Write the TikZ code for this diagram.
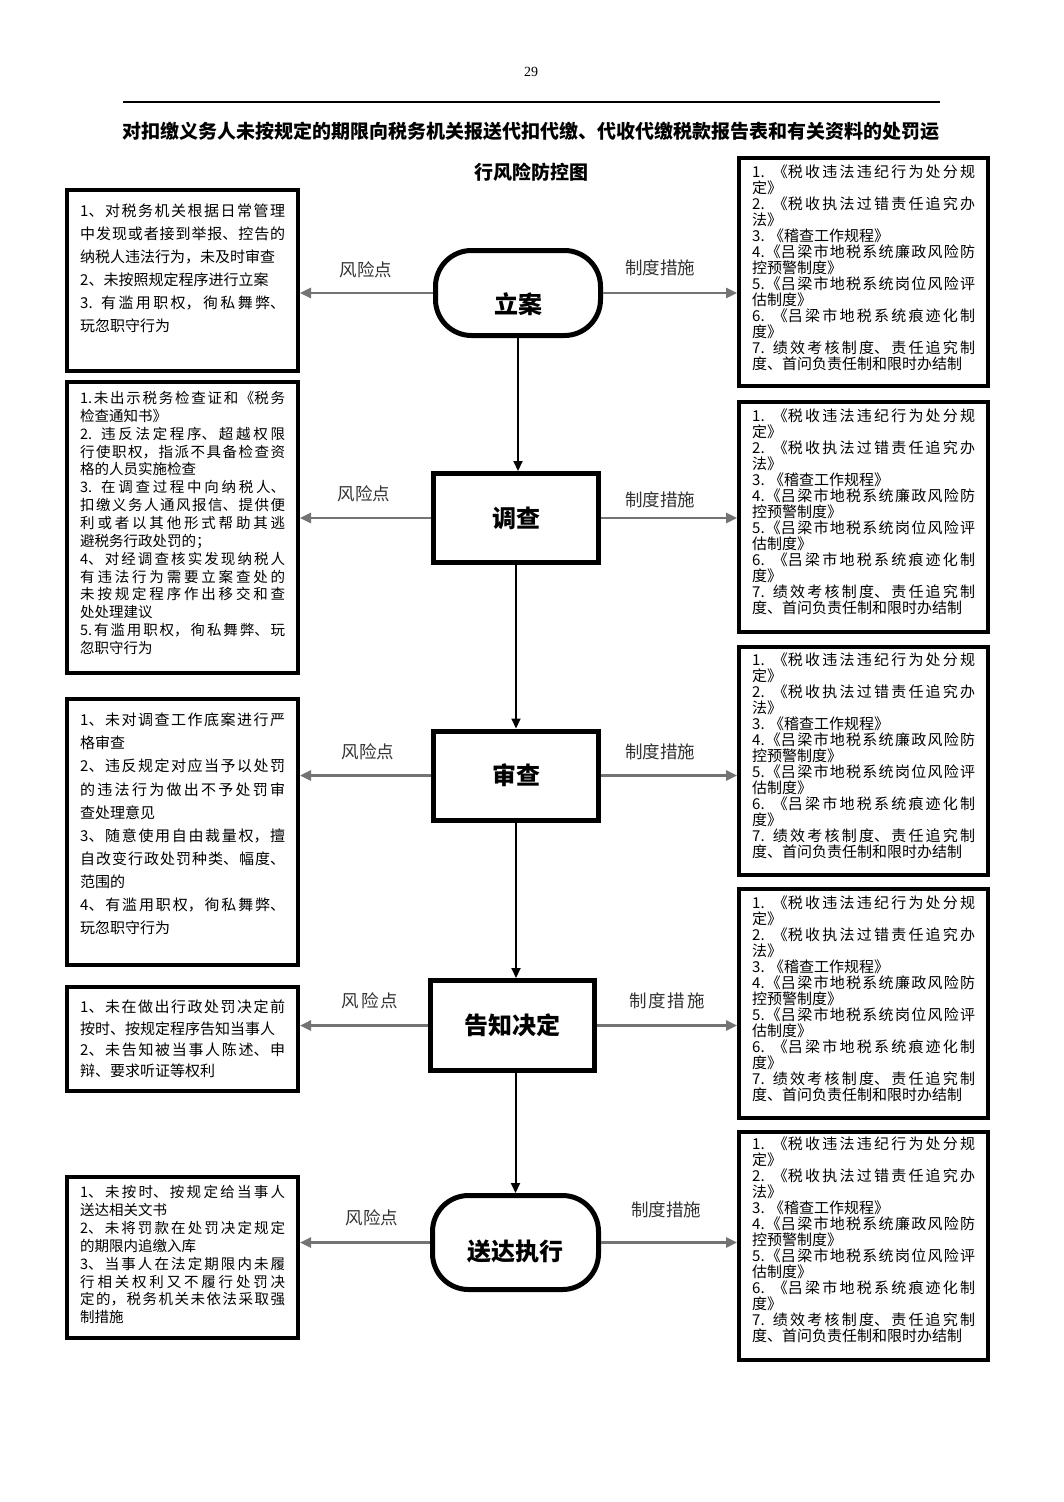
\documentclass[tikz,border=0pt]{standalone}
\usepackage{fontspec}
\setmainfont{Noto Sans CJK SC}
\newfontfamily\numfont{Liberation Serif}
\usetikzlibrary{arrows.meta,positioning,calc}
\XeTeXlinebreaklocale "zh"
\XeTeXlinebreakskip=0pt plus 3pt

% the same seven rules stand in every right-hand box
\newcommand{\rulelist}{%
1. 《税收违法违纪行为处分规\linebreak 定》\par
2. 《税收执法过错责任追究办\linebreak 法》\par
3. 《稽查工作规程》\par
4.《吕梁市地税系统廉政风险防\linebreak 控预警制度》\par
5.《吕梁市地税系统岗位风险评\linebreak 估制度》\par
6. 《吕梁市地税系统痕迹化制\linebreak 度》\par
7. 绩效考核制度、责任追究制\linebreak 度、首问负责任制和限时办结制}

\begin{document}
\tolerance=10000
\begin{tikzpicture}[x=1pt,y=-1pt,
    riskbox/.style={draw,line width=4pt,minimum width=231pt,inner sep=0pt},
    rulebox/.style={draw,line width=4pt,minimum width=249pt,inner sep=0pt},
    risktext/.style={anchor=base west,inner sep=0pt,text width=205pt,align=justify},
    ruletext/.style={anchor=base west,inner sep=0pt,text width=223pt,align=justify,
        font=\fontsize{15}{16}\selectfont},
    stepbox/.style={draw,line width=5pt,minimum width=165pt,minimum height=89pt,
        inner sep=0pt,font=\fontsize{24}{28}\selectfont\bfseries},
    roundstep/.style={stepbox,rounded corners=36pt},
    flowarrow/.style={line width=2pt,-{Triangle[length=10pt,width=9pt]}},
    sidearrow/.style={line width=2.5pt,black!55,-{Triangle[length=11pt,width=10pt]}},
    sidelabel/.style={inner sep=0pt,text=black!80,font=\fontsize{17.5}{20}\selectfont}]

    \fill[white] (0,0) rectangle (1063,1502);
    \useasboundingbox (0,0) rectangle (1063,1502);

    % header
    \node[font=\numfont\fontsize{14}{16}\selectfont] (page) at (531,72) {29};
    \draw[line width=2pt] (123,102) -- (940,102);
    \node[font=\fontsize{19}{22}\selectfont\bfseries] (title1) at (531,131)
        {对扣缴义务人未按规定的期限向税务机关报送代扣代缴、代收代缴税款报告表和有关资料的处罚运};
    \node[font=\fontsize{19}{22}\selectfont\bfseries] (title2) at (531,172) {行风险防控图};

    % steps
    \node[roundstep,minimum height=85pt] (lian) at (518,293) {\raisebox{-20pt}[0pt][0pt]{立案}};
    \node[stepbox] (diaocha) at (516,518) {调查};
    \node[stepbox] (shencha) at (516,775.5) {审查};
    \node[stepbox,minimum width=164pt,minimum height=90pt] (gaozhi) at (512.5,1025.5) {告知决定};
    \node[roundstep,minimum width=166pt,minimum height=94pt] (songda) at (515.5,1242.5) {\raisebox{-18pt}[0pt][0pt]{送达执行}};

    \draw[flowarrow] (lian.south) -- (lian.south |- diaocha.north);
    \draw[flowarrow] (diaocha.south) -- (diaocha.south |- shencha.north);
    \draw[flowarrow] (shencha.south) -- (shencha.south |- gaozhi.north);
    \draw[flowarrow] (songda.north |- gaozhi.south) -- (songda.north);

    % risk points
    \node[riskbox,minimum height=181pt] (risk1) at (182.5,280.5) {};
    \node[riskbox,minimum height=291pt] (risk2) at (182.5,527.5) {};
    \node[riskbox,minimum height=266pt] (risk3) at (182.5,832) {};
    \node[riskbox,minimum height=104pt] (risk4) at (182.5,1039) {};
    \node[riskbox,minimum height=161pt] (risk5) at (182.5,1257.5) {};

    \node[risktext,font=\fontsize{15}{23}\selectfont] (risk1t) at (80,216.7) {%
        1、对税务机关根据日常管理\linebreak 中发现或者接到举报、控告的\linebreak 纳税人违法行为，未及时审查\par
        2、未按照规定程序进行立案\par
        3. 有滥用职权，徇私舞弊、\linebreak 玩忽职守行为};
    \node[risktext,font=\fontsize{14.5}{17.86}\selectfont] (risk2t) at (80,403.5) {%
        1.未出示税务检查证和《税务\linebreak 检查通知书》\par
        2. 违反法定程序、超越权限\linebreak 行使职权，指派不具备检查资\linebreak 格的人员实施检查\par
        3. 在调查过程中向纳税人、\linebreak 扣缴义务人通风报信、提供便\linebreak 利或者以其他形式帮助其逃\linebreak 避税务行政处罚的；\par
        4、对经调查核实发现纳税人\linebreak 有违法行为需要立案查处的\linebreak 未按规定程序作出移交和查\linebreak 处处理建议\par
        5.有滥用职权，徇私舞弊、玩\linebreak 忽职守行为};
    \node[risktext,font=\fontsize{15}{23.1}\selectfont] (risk3t) at (80,725.7) {%
        1、未对调查工作底案进行严\linebreak 格审查\par
        2、违反规定对应当予以处罚\linebreak 的违法行为做出不予处罚审\linebreak 查处理意见\par
        3、随意使用自由裁量权，擅\linebreak 自改变行政处罚种类、幅度、\linebreak 范围的\par
        4、有滥用职权，徇私舞弊、\linebreak 玩忽职守行为};
    \node[risktext,font=\fontsize{15}{21.3}\selectfont] (risk4t) at (80,1012.7) {%
        1、未在做出行政处罚决定前\linebreak 按时、按规定程序告知当事人\par
        2、未告知被当事人陈述、申\linebreak 辩、要求听证等权利};
    \node[risktext,font=\fontsize{14.5}{17.9}\selectfont] (risk5t) at (80,1197.5) {%
        1、未按时、按规定给当事人\linebreak 送达相关文书\par
        2、未将罚款在处罚决定规定\linebreak 的期限内追缴入库\par
        3、当事人在法定期限内未履\linebreak 行相关权利又不履行处罚决\linebreak 定的，税务机关未依法采取强\linebreak 制措施};

    % rules
    \node[rulebox,minimum height=228pt] (rule1) at (863.5,272) {};
    \node[rulebox,minimum height=230pt] (rule2) at (863.5,517) {};
    \node[rulebox,minimum height=228pt] (rule3) at (863.5,761) {};
    \node[rulebox,minimum height=229pt] (rule4) at (863.5,1003.5) {};
    \node[rulebox,minimum height=228pt] (rule5) at (863.5,1246) {};
    \foreach \n/\y in {1/177.7, 2/421.7, 3/665.7, 4/908.7, 5/1149.7}
        \node[ruletext] (rule\n t) at (752,\y) {\rulelist};

    % side arrows
    \foreach \s/\n in {lian/1, diaocha/2, shencha/3, gaozhi/4, songda/5} {
        \draw[sidearrow] (\s.west) -- (\s.west -| risk\n.east);
        \draw[sidearrow] (\s.east) -- (\s.east -| rule\n.west);
    }
    \node[sidelabel] (riskl1) at (366,270) {风险点};
    \node[sidelabel] (rulel1) at (660,268) {制度措施};
    \node[sidelabel] (riskl2) at (364,494) {风险点};
    \node[sidelabel] (rulel2) at (660,500) {制度措施};
    \node[sidelabel] (riskl3) at (368,752) {风险点};
    \node[sidelabel] (rulel3) at (660,752) {制度措施};
    \node[sidelabel] (riskl4) at (370,1001) {风\kern2pt 险\kern2pt 点};
    \node[sidelabel] (rulel4) at (667,1001) {制\kern2pt 度\kern2pt 措\kern2pt 施};
    \node[sidelabel] (riskl5) at (372,1218) {风险点};
    \node[sidelabel] (rulel5) at (666,1210) {制度措施};
\end{tikzpicture}
\end{document}
